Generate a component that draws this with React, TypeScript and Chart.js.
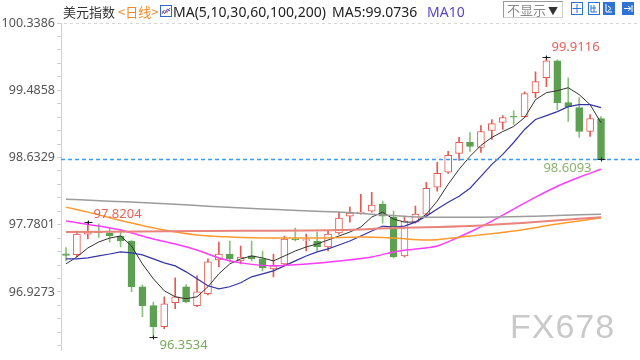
import React, { useEffect, useRef } from "react";
import { Chart, registerables } from "chart.js";

Chart.register(...registerables);

// Daily candles (oldest -> newest)
const OPEN = [97.41, 97.40, 97.66, 97.69, 97.675, 97.637, 97.573, 96.993, 96.753, 96.488, 96.79, 96.993, 96.753, 96.905, 97.333, 97.409, 97.321, 97.384, 97.346, 97.22, 97.283, 97.599, 97.58, 97.573, 97.498, 97.675, 97.889, 97.93, 97.952, 98.041, 97.876, 97.384, 97.813, 97.914, 98.255, 98.445, 98.685, 98.824, 98.76, 98.975, 99.076, 99.155, 99.152, 99.455, 99.644, 99.859, 99.328, 99.265, 98.962, 99.126];
const HIGH = [97.49, 97.70, 97.8204, 97.79, 97.74, 97.725, 97.58, 97.018, 96.80, 96.866, 97.106, 97.02, 97.132, 97.346, 97.561, 97.573, 97.51, 97.573, 97.447, 97.409, 97.637, 97.738, 97.662, 97.687, 97.70, 97.94, 98.003, 98.167, 98.192, 98.079, 97.952, 97.889, 98.015, 98.318, 98.571, 98.71, 98.887, 98.95, 99.038, 99.114, 99.164, 99.228, 99.467, 99.72, 99.9116, 99.871, 99.644, 99.392, 99.177, 99.152];
const LOW = [97.32, 97.37, 97.60, 97.62, 97.56, 97.498, 96.93, 96.614, 96.3534, 96.46, 96.715, 96.79, 96.74, 96.89, 97.245, 97.308, 97.283, 97.321, 97.195, 97.119, 97.27, 97.573, 97.447, 97.447, 97.447, 97.66, 97.813, 97.914, 97.94, 97.80, 97.359, 97.371, 97.80, 97.90, 98.205, 98.43, 98.596, 98.71, 98.697, 98.861, 98.988, 99.051, 99.14, 99.392, 99.53, 99.24, 99.089, 98.887, 98.90, 98.6093];
const CLOSE = [97.39, 97.66, 97.69, 97.68, 97.637, 97.573, 96.993, 96.753, 96.488, 96.778, 96.866, 96.803, 96.93, 97.308, 97.409, 97.346, 97.371, 97.346, 97.233, 97.258, 97.599, 97.586, 97.59, 97.498, 97.662, 97.864, 97.927, 97.94, 98.028, 97.889, 97.371, 97.826, 97.914, 98.243, 98.432, 98.659, 98.824, 98.773, 98.962, 99.063, 99.139, 99.145, 99.442, 99.594, 99.859, 99.328, 99.278, 98.962, 99.126, 98.6093];

// Moving averages
const MA5 = [97.283, 97.371, 97.485, 97.561, 97.611, 97.637, 97.51, 97.283, 97.094, 96.942, 96.866, 96.841, 96.866, 96.993, 97.157, 97.283, 97.346, 97.384, 97.359, 97.321, 97.384, 97.447, 97.498, 97.536, 97.586, 97.637, 97.687, 97.75, 97.877, 97.94, 97.851, 97.813, 97.813, 97.914, 98.079, 98.293, 98.483, 98.647, 98.786, 98.887, 98.962, 99.026, 99.139, 99.366, 99.455, 99.48, 99.518, 99.43, 99.303, 99.0736];
const MA10 = [97.346, 97.346, 97.359, 97.384, 97.409, 97.435, 97.422, 97.397, 97.346, 97.296, 97.258, 97.182, 97.094, 97.005, 96.967, 96.993, 97.043, 97.119, 97.157, 97.195, 97.258, 97.321, 97.384, 97.435, 97.473, 97.523, 97.573, 97.637, 97.7, 97.763, 97.75, 97.763, 97.813, 97.889, 97.978, 98.066, 98.142, 98.243, 98.394, 98.546, 98.672, 98.823, 98.988, 99.114, 99.164, 99.215, 99.278, 99.303, 99.303, 99.265];
const MA30_AT = [0, 3, 5, 8, 10, 12, 14, 16, 19, 22, 25, 28, 30, 32, 34, 36, 37, 39, 41, 43, 45, 47, 49];
const MA30 = [97.826, 97.763, 97.712, 97.599, 97.536, 97.46, 97.359, 97.296, 97.258, 97.283, 97.321, 97.371, 97.435, 97.473, 97.51, 97.624, 97.687, 97.826, 97.978, 98.129, 98.268, 98.382, 98.483];
const MA60_AT = [0, 2, 6, 9, 12, 15, 19, 23, 27, 30, 33, 37, 41, 45, 49];
const MA60 = [98.003, 97.94, 97.801, 97.712, 97.649, 97.624, 97.611, 97.611, 97.624, 97.611, 97.586, 97.637, 97.7, 97.788, 97.864];
const MA100_AT = [0, 12, 25, 30, 37, 43, 49];
const MA100 = [97.687, 97.7, 97.712, 97.738, 97.763, 97.813, 97.876];
const MA200_AT = [0, 4, 10, 13, 18, 25, 28, 33, 37, 43, 49];
const MA200 = [98.104, 98.079, 98.041, 98.015, 97.978, 97.94, 97.914, 97.876, 97.876, 97.889, 97.914];

const Y_TICKS = [100.3386, 99.4858, 98.6329, 97.7801, 96.9273];
const Y_MIN = 96.1846;

const UP = "#e35b50";
const DOWN = "#5da052";
const DOWN_WICK = "#88c27c";

const N = CLOSE.length;
const IDX = CLOSE.map((_, i) => i);
const isUp = (i: number) => CLOSE[i] >= OPEN[i];
const sparse = (at: number[], vals: number[]) => at.map((i, k) => ({ x: i, y: vals[k] }));

const overlay = {
  id: "overlay",
  beforeDatasetsDraw(chart: any) {
    const { ctx, chartArea: a } = chart;
    ctx.save();
    ctx.strokeStyle = "#d6d6d6";
    ctx.lineWidth = 1;
    ctx.setLineDash([3, 3]);
    ctx.beginPath();
    const ty = Math.round(a.top) + 0.5;
    ctx.moveTo(a.left + 3, ty);
    ctx.lineTo(a.right, ty);
    ctx.stroke();
    ctx.restore();
  },
  afterDatasetsDraw(chart: any) {
    const { ctx, chartArea: a, scales } = chart;
    const x = scales.x;
    const y = scales.y;
    const last = N - 1;
    ctx.save();
    const yc = Math.round(y.getPixelForValue(CLOSE[last])) + 0.5;
    ctx.strokeStyle = "#3c9cf2";
    ctx.lineWidth = 1.5;
    ctx.setLineDash([4, 3]);
    ctx.beginPath();
    ctx.moveTo(a.left, yc);
    ctx.lineTo(a.right, yc);
    ctx.stroke();
    ctx.setLineDash([]);

    const mark = (i: number, v: number) => {
      const px = Math.round(x.getPixelForValue(i)) + 0.5;
      const py = Math.round(y.getPixelForValue(v)) + 0.5;
      ctx.strokeStyle = "#222";
      ctx.lineWidth = 1;
      ctx.beginPath();
      ctx.moveTo(px - 4, py);
      ctx.lineTo(px + 4, py);
      ctx.moveTo(px, py - 2);
      ctx.lineTo(px, py + 2);
      ctx.stroke();
      return { px, py };
    };

    const hiVal = Math.max(...HIGH);
    const hiIdx = HIGH.indexOf(hiVal);
    const loVal = Math.min(...LOW);
    const loIdx = LOW.indexOf(loVal);
    const early = HIGH.slice(0, 10);
    const eVal = Math.max(...early);
    const eIdx = early.indexOf(eVal);

    ctx.font = '13px "Noto Sans", sans-serif';
    ctx.textBaseline = "middle";

    let p = mark(hiIdx, hiVal);
    ctx.fillStyle = "#e8625a";
    ctx.textAlign = "left";
    ctx.fillText(hiVal.toFixed(4), p.px + 5, p.py - 10);

    p = mark(eIdx, eVal);
    ctx.fillText(eVal.toFixed(4), p.px + 5, p.py - 8);

    p = mark(loIdx, loVal);
    ctx.fillStyle = "#78aa5e";
    ctx.fillText(loVal.toFixed(4), p.px + 6, p.py + 8);

    p = mark(last, CLOSE[last]);
    ctx.fillStyle = "#8cb36c";
    ctx.textAlign = "right";
    ctx.fillText(CLOSE[last].toFixed(4), p.px - 10, p.py + 9);
    ctx.restore();
  },
};

const line = (label: string, data: any[], color: string, width: number, smooth: boolean) => ({
  type: "line" as const,
  label,
  data,
  borderColor: color,
  borderWidth: width,
  pointRadius: 0,
  fill: false,
  tension: smooth ? 0.4 : 0,
  cubicInterpolationMode: smooth ? ("monotone" as const) : ("default" as const),
  order: 0,
});

export default function App() {
  const ref = useRef<HTMLCanvasElement>(null);
  useEffect(() => {
    const chart = new Chart(ref.current as HTMLCanvasElement, {
      type: "bar",
      data: {
        datasets: [
          line("MA200", sparse(MA200_AT, MA200), "#9c9c9c", 1.5, true),
          line("MA100", sparse(MA100_AT, MA100), "#e8847c", 2, true),
          line("MA60", sparse(MA60_AT, MA60), "#ff9a2e", 1.5, true),
          line("MA30", sparse(MA30_AT, MA30), "#ff3cff", 1.5, true),
          line("MA10", IDX.map((i) => ({ x: i, y: MA10[i] })), "#3636a8", 1.2, false),
          line("MA5", IDX.map((i) => ({ x: i, y: MA5[i] })), "#333333", 1, false),
          {
            type: "bar",
            label: "body",
            data: IDX.map((i) => ({ x: i, y: [OPEN[i], CLOSE[i]] })) as any,
            backgroundColor: IDX.map((i) => (isUp(i) ? "#ffffff" : DOWN)),
            borderColor: IDX.map((i) => (isUp(i) ? UP : DOWN)),
            borderWidth: 1,
            borderSkipped: false,
            barThickness: 7,
            grouped: false,
            order: 1,
          } as any,
          {
            type: "bar",
            label: "wick",
            data: IDX.map((i) => ({ x: i, y: [LOW[i], HIGH[i]] })) as any,
            backgroundColor: IDX.map((i) => (isUp(i) ? UP : DOWN_WICK)),
            borderWidth: 0,
            barThickness: 1,
            grouped: false,
            order: 2,
          } as any,
        ],
      },
      options: {
        animation: false,
        responsive: false,
        maintainAspectRatio: false,
        events: [],
        layout: { padding: { left: 0, right: 0, top: 23, bottom: 8 } },
        plugins: { legend: { display: false }, tooltip: { enabled: false } },
        scales: {
          x: {
            type: "linear",
            display: false,
            offset: false,
            min: -0.458,
            max: 52.57,
          },
          y: {
            type: "linear",
            position: "left",
            min: Y_MIN,
            max: Y_TICKS[0],
            afterFit: (s: any) => {
              s.width = 61;
            },
            afterBuildTicks: (s: any) => {
              const step = (Y_TICKS[0] - Y_TICKS[Y_TICKS.length - 1]) / ((Y_TICKS.length - 1) * 5);
              const ticks: any[] = [];
              for (let k = 0; Y_TICKS[0] - k * step >= s.min - 1e-9; k++) {
                ticks.push({ value: Y_TICKS[0] - k * step });
              }
              s.ticks = ticks;
            },
            grid: {
              display: true,
              drawOnChartArea: false,
              drawTicks: true,
              tickLength: 4,
              color: "#c9d2de",
            },
            border: { display: true, color: "#c9d2de" },
            ticks: {
              autoSkip: false,
              padding: 2,
              color: "#555",
              font: { family: '"Noto Sans", sans-serif', size: 12.5 },
              callback: (v: any) => {
                const m = Y_TICKS.find((t) => Math.abs(t - Number(v)) < 0.005);
                return m !== undefined ? m.toFixed(4) : "";
              },
            },
          },
        },
      } as any,
      plugins: [overlay],
    });
    return () => chart.destroy();
  }, []);

  const latin = '"Noto Sans", sans-serif';
  const cjk = '"Noto Sans CJK SC", "Noto Sans", sans-serif';
  const txt = (left: number, color: string, size: number, family: string, s: string) => (
    <span
      style={{
        position: "absolute",
        left,
        top: 3,
        lineHeight: "17px",
        fontSize: size,
        fontFamily: family,
        color,
        whiteSpace: "nowrap",
      }}
    >
      {s}
    </span>
  );
  const iconBox = (left: number, filled: boolean, path: string) => (
    <svg width="12" height="13" style={{ position: "absolute", left, top: 2 }}>
      <rect x="0.5" y="0.5" width="11" height="12" fill={filled ? "#2f72d6" : "#fff"} stroke="#2f72d6" />
      <path d={path} stroke={filled ? "#fff" : "#2f72d6"} fill="none" strokeWidth="1" />
    </svg>
  );

  return (
    <div
      style={{
        position: "absolute",
        left: 0,
        top: 0,
        width: 640,
        height: 360,
        background: "#fff",
        overflow: "hidden",
      }}
    >
      <canvas ref={ref} width={640} height={360} style={{ position: "absolute", left: 0, top: 0 }} />
      {txt(63, "#333", 13, cjk, "美元指数")}
      {txt(118, "#f08a2a", 13, cjk, "<日线>")}
      <svg width="12" height="12" style={{ position: "absolute", left: 160, top: 5 }}>
        <rect x="0.5" y="0.5" width="11" height="11" fill="#fff" stroke="#3466c8" />
        <polyline points="2,9 4.5,5 7,7.5 10,3" fill="none" stroke="#d64545" />
        <polyline points="2,6.5 5,8.5 7.5,4 10,6" fill="none" stroke="#3466c8" />
      </svg>
      {txt(173, "#222", 14, latin, "MA(5,10,30,60,100,200)")}
      {txt(332, "#222", 14, latin, "MA5:" + MA5[N - 1].toFixed(4))}
      {txt(427, "#5b44c8", 14, latin, "MA10")}
      <div
        style={{
          position: "absolute",
          left: 503,
          top: 1,
          width: 55,
          height: 15,
          border: "1px solid #9a9a9a",
          borderRightColor: "#d0d0d0",
          borderBottomColor: "#d0d0d0",
          background: "#fff",
          fontFamily: cjk,
          fontSize: 13,
          lineHeight: "15px",
          color: "#8a8a8a",
          paddingLeft: 3,
          boxSizing: "content-box",
          whiteSpace: "nowrap",
        }}
      >
        不显示<span style={{ color: "#333", fontSize: 10, marginLeft: 2 }}>▼</span>
      </div>
      {iconBox(571, false, "M6 2V11M1.5 6.5H10.5")}
      {iconBox(588, false, "M3 3V10H9M3 6H8M6 3V10")}
      {iconBox(603, true, "M3 2V10H9M5 4L8 6.5L5 9")}
      {iconBox(622, true, "M2 6.5H8M6 4L9 6.5L6 9M10 3V10")}
      <div
        style={{
          position: "absolute",
          left: 510,
          top: 309,
          fontFamily: '"Liberation Sans", sans-serif',
          fontSize: 34,
          lineHeight: "34px",
          letterSpacing: 1,
          color: "#c9c9c9",
          whiteSpace: "nowrap",
          pointerEvents: "none",
        }}
      >
        FX678
      </div>
    </div>
  );
}
